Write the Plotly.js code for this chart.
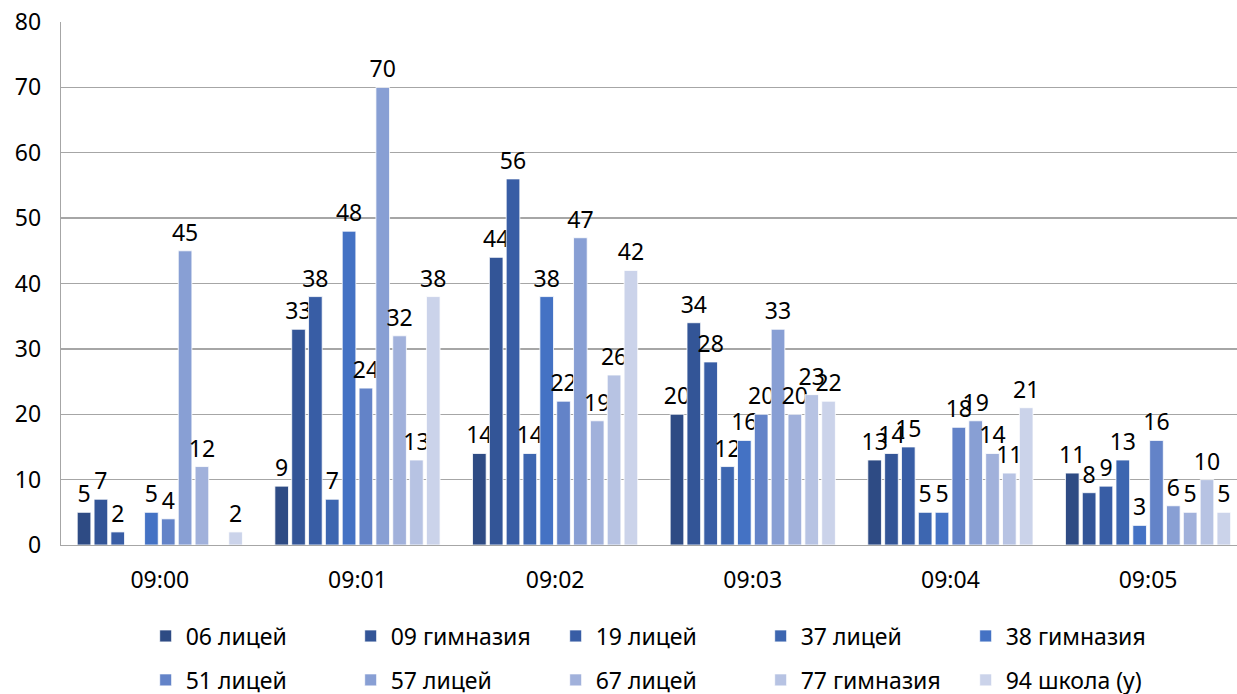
<!DOCTYPE html>
<html>
<head>
<meta charset="utf-8">
<script src="https://cdn.plot.ly/plotly-3.0.1.min.js"></script>
<style>html,body{margin:0;padding:0;background:#fff;}#chart{width:1237px;height:694px;}</style>
</head>
<body>
<div id="chart"></div>
<script>
const categories = ["09:00", "09:01", "09:02", "09:03", "09:04", "09:05"];
const seriesNames = ["06 лицей", "09 гимназия", "19 лицей", "37 лицей", "38 гимназия",
                     "51 лицей", "57 лицей", "67 лицей", "77 гимназия", "94 школа (у)"];
const s06 = [5, 9, 14, 20, 13, 11];
const s09 = [7, 33, 44, 34, 14, 8];
const s19 = [2, 38, 56, 28, 15, 9];
const s37 = [null, 7, 14, 12, 5, 13];
const s38 = [5, 48, 38, 16, 5, 3];
const s51 = [4, 24, 22, 20, 18, 16];
const s57 = [45, 70, 47, 33, 19, 6];
const s67 = [12, 32, 19, 20, 14, 5];
const s77 = [null, 13, 26, 23, 11, 10];
const s94 = [2, 38, 42, 22, 21, 5];
const seriesValues = [s06, s09, s19, s37, s38, s51, s57, s67, s77, s94];
const colors = ["#2E4B84", "#335597", "#385DA5", "#3D66B0", "#4472C4",
                "#6383C8", "#889FD4", "#A1B1DB", "#B7C3E3", "#CBD3EA"];

const FONT = "Noto Sans, Open Sans, sans-serif";
const FS = 23;
const traces = seriesValues.map((vals, i) => ({
  type: "bar",
  name: seriesNames[i],
  x: categories,
  y: vals,
  marker: {color: colors[i], line: {color: "#ffffff", width: 0.8}},
  text: vals.map(v => v === null ? "" : String(v)),
  textposition: "outside",
  constraintext: "none",
  cliponaxis: false,
  textfont: {family: FONT, size: FS, color: "#000"},
  hoverinfo: "name+y",
  legend: i < 5 ? "legend" : "legend2"
}));

const legendCommon = {
  orientation: "h",
  xanchor: "left",
  yanchor: "middle",
  x: 0.072,
  entrywidth: 160,
  entrywidthmode: "pixels",
  font: {family: FONT, size: FS, color: "#000"},
  bgcolor: "rgba(0,0,0,0)",
  traceorder: "normal",
  itemwidth: 30
};

const layout = {
  width: 1237,
  height: 694,
  margin: {l: 61, r: 0, t: 22, b: 149, autoexpand: false},
  paper_bgcolor: "#fff",
  plot_bgcolor: "#fff",
  barmode: "group",
  bargap: 0.148,
  bargroupgap: 0.19,
  showlegend: true,
  font: {family: FONT, size: FS, color: "#000"},
  xaxis: {
    type: "category",
    range: [-0.5, 5.45],
    showline: true,
    linecolor: "#A6A6A6",
    linewidth: 1.3,
    showgrid: false,
    ticks: "",
    ticklabelstandoff: 14,
    tickfont: {family: FONT, size: FS, color: "#000"},
    fixedrange: true,
    automargin: false
  },
  yaxis: {
    range: [0, 80],
    dtick: 10,
    showline: true,
    linecolor: "#A6A6A6",
    linewidth: 1.3,
    showgrid: true,
    gridcolor: "#A6A6A6",
    gridwidth: 1.3,
    zeroline: false,
    ticks: "",
    ticklabelstandoff: 14,
    tickfont: {family: FONT, size: FS, color: "#000"},
    fixedrange: true,
    automargin: false
  },
  legend: Object.assign({}, legendCommon, {y: -0.174}),
  legend2: Object.assign({}, legendCommon, {y: -0.258})
};

Plotly.newPlot("chart", traces, layout, {displayModeBar: false, staticPlot: true});
</script>
</body>
</html>
